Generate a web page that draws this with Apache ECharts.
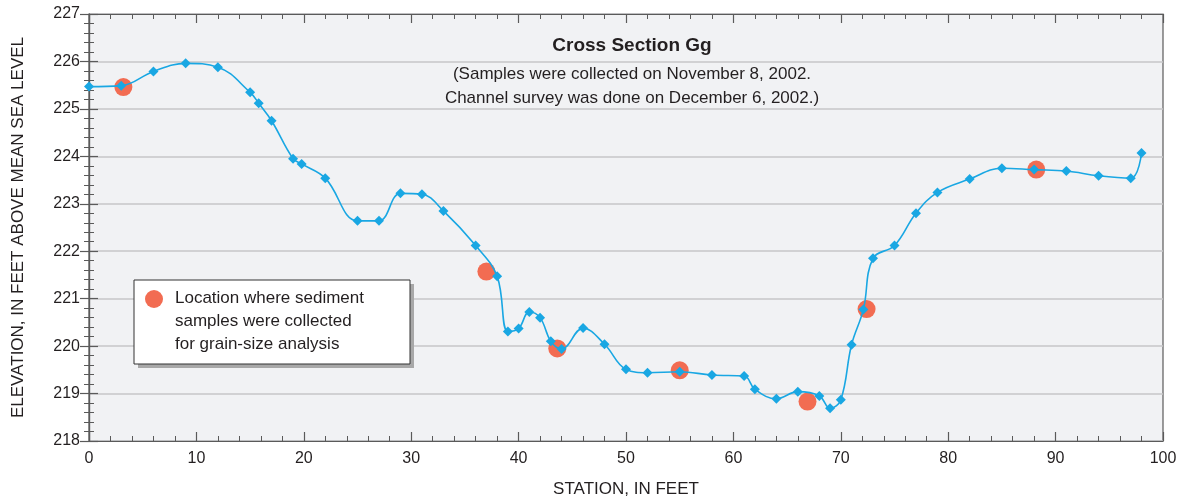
<!DOCTYPE html>
<html>
<head>
<meta charset="utf-8">
<script src="https://cdn.jsdelivr.net/npm/echarts@6/dist/echarts.min.js"></script>
<style>
  html, body { margin: 0; padding: 0; background: #fff; }
  #chart { width: 1182px; height: 503px; }
</style>
</head>
<body>
<div id="chart"></div>
<script>
// channel survey points (station, elevation)
var stations = [0, 3, 6, 9, 12, 15, 15.8, 17, 19, 19.8, 22, 25, 27, 29, 31, 33, 36, 38, 39, 40,
  41, 42, 43, 44, 46, 48, 50, 52, 55, 58, 61, 62, 64, 66, 68, 69, 70, 71, 72.1, 73,
  75, 77, 79, 82, 85, 88, 91, 94, 97, 98];
var elevations = [225.47, 225.49, 225.79, 225.96, 225.88, 225.35, 225.12, 224.75, 223.95, 223.84,
  223.54, 222.64, 222.64, 223.22, 223.2, 222.85, 222.12, 221.47, 220.31, 220.37,
  220.72, 220.6, 220.1, 219.94, 220.38, 220.04, 219.51, 219.44, 219.46, 219.39,
  219.37, 219.09, 218.89, 219.04, 218.95, 218.69, 218.87, 220.03, 220.77, 221.85,
  222.12, 222.8, 223.24, 223.52, 223.75, 223.72, 223.69, 223.59, 223.54, 224.07];

// sediment sample locations
var sampleStations = [3.2, 37, 43.6, 55, 66.9, 72.4, 88.2];
var sampleElevations = [225.46, 221.57, 219.95, 219.49, 218.83, 220.78, 223.72];

var xTicks = [0, 10, 20, 30, 40, 50, 60, 70, 80, 90, 100];
var yTicks = [218, 219, 220, 221, 222, 223, 224, 225, 226, 227];

var font = "'Liberation Sans', Arial, sans-serif";
var axisColor = '#5a5a5a';

function pairs(xs, ys) {
  return xs.map(function (x, i) { return [x, ys[i]]; });
}

var chart = echarts.init(document.getElementById('chart'));

var tickStyle = { show: true, inside: true, length: 9, lineStyle: { color: axisColor, width: 1.2 } };
var minorStyle = { show: true, splitNumber: 5, length: 5, lineStyle: { color: axisColor, width: 1 } };

var option = {
  backgroundColor: '#ffffff',
  animation: false,
  textStyle: { fontFamily: font },
  title: {
    text: 'Cross Section Gg',
    subtext: '(Samples were collected on November 8, 2002.\nChannel survey was done on December 6, 2002.)',
    left: 627,
    textAlign: 'center',
    top: 31,
    itemGap: 7,
    textStyle: { fontFamily: font, fontSize: 19, fontWeight: 'bold', color: '#231f20' },
    subtextStyle: { fontFamily: font, fontSize: 17, color: '#231f20', lineHeight: 24, align: 'center' }
  },
  grid: {
    left: 89, right: 19, top: 14, bottom: 62,
    show: true,
    backgroundColor: '#f1f2f4',
    borderColor: axisColor,
    borderWidth: 1.2
  },
  xAxis: [{
    type: 'value',
    min: xTicks[0], max: xTicks[xTicks.length - 1], interval: 10,
    name: 'STATION, IN FEET',
    nameLocation: 'middle',
    nameGap: 40,
    nameTextStyle: { fontFamily: font, fontSize: 17, color: '#231f20' },
    axisLine: { show: true, lineStyle: { color: axisColor, width: 1.2 } },
    axisTick: tickStyle,
    minorTick: minorStyle,
    axisLabel: { margin: 10, fontSize: 16, color: '#231f20', fontFamily: font },
    splitLine: { show: false }
  }, {
    type: 'value', position: 'top',
    min: xTicks[0], max: xTicks[xTicks.length - 1], interval: 10,
    axisLine: { show: true, lineStyle: { color: axisColor, width: 1.2 } },
    axisTick: tickStyle,
    minorTick: minorStyle,
    axisLabel: { show: false },
    splitLine: { show: false }
  }],
  yAxis: [{
    type: 'value',
    min: yTicks[0], max: yTicks[yTicks.length - 1], interval: 1,
    name: 'ELEVATION, IN FEET ABOVE MEAN SEA LEVEL',
    nameLocation: 'middle',
    nameGap: 62,
    nameTextStyle: { fontFamily: font, fontSize: 17, color: '#231f20' },
    axisLine: { show: true, lineStyle: { color: axisColor, width: 1.2 } },
    axisTick: tickStyle,
    minorTick: minorStyle,
    axisLabel: { margin: 9, fontSize: 16, color: '#231f20', fontFamily: font },
    splitLine: { show: true, lineStyle: { color: '#c6c6c8', width: 1.5 } }
  }, {
    type: 'value', position: 'right',
    min: yTicks[0], max: yTicks[yTicks.length - 1], interval: 1,
    axisLine: { show: true, lineStyle: { color: axisColor, width: 1.2 } },
    axisTick: tickStyle,
    minorTick: minorStyle,
    axisLabel: { show: false },
    splitLine: { show: false }
  }],
  series: [{
    name: 'Samples',
    type: 'scatter',
    data: pairs(sampleStations, sampleElevations),
    symbol: 'circle',
    symbolSize: 18,
    itemStyle: { color: '#f26c52', opacity: 1 },
    z: 2
  }, {
    name: 'Survey',
    type: 'line',
    data: pairs(stations, elevations),
    smooth: 0.4,
    symbol: 'diamond',
    symbolSize: 10,
    showAllSymbol: true,
    lineStyle: { color: '#19a7e3', width: 1.6 },
    itemStyle: { color: '#19a7e3' },
    z: 3
  }],
  graphic: [{
    type: 'rect',
    shape: { x: 138, y: 284, width: 276, height: 84 },
    style: { fill: '#a8a8a8' },
    z: 10
  }, {
    type: 'rect',
    shape: { x: 134, y: 280, width: 276, height: 84 },
    style: { fill: '#ffffff', stroke: '#333', lineWidth: 1 },
    z: 11
  }, {
    type: 'circle',
    shape: { cx: 154, cy: 299, r: 9 },
    style: { fill: '#f26c52' },
    z: 12
  }, {
    type: 'text',
    x: 175, y: 287,
    style: {
      text: 'Location where sediment\nsamples were collected\nfor grain-size analysis',
      font: '17px ' + font,
      fill: '#231f20',
      lineHeight: 23
    },
    z: 12
  }]
};

chart.setOption(option);
</script>
</body>
</html>
